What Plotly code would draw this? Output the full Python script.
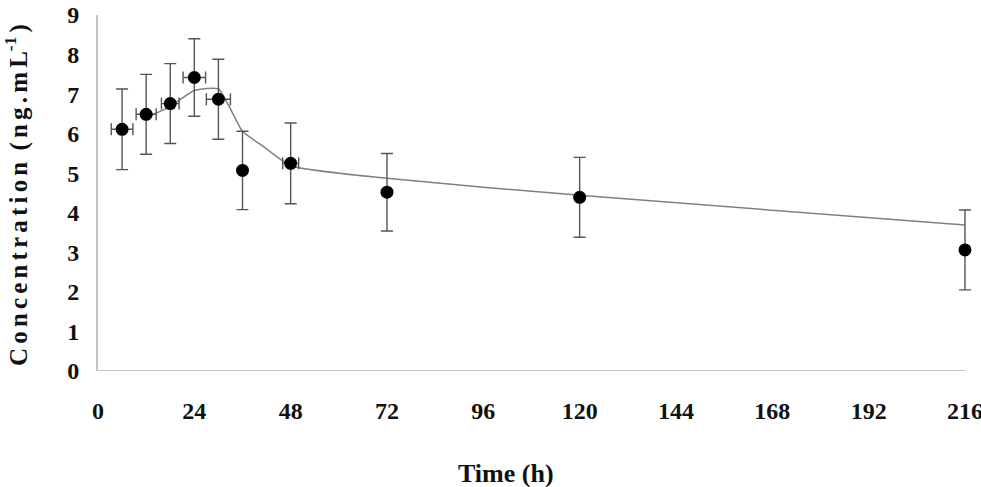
import plotly.graph_objects as go

# Observed data
time_h = [6, 12, 18, 24, 30, 36, 48, 72, 120, 216]
conc = [6.11, 6.49, 6.76, 7.42, 6.87, 5.07, 5.25, 4.52, 4.39, 3.06]
conc_sd = [1.02, 1.01, 1.01, 0.98, 1.01, 0.99, 1.02, 0.98, 1.01, 1.01]
time_sd = [2.7, 2.5, 2.2, 2.8, 3.0, 0, 2.0, 0, 0, 0]

# Fitted curve
fit_t = [12, 18, 24, 30, 36, 41, 48, 72, 120, 216]
fit_c = [6.40, 6.69, 7.09, 7.13, 6.06, 5.69, 5.19, 4.87, 4.44, 3.69]

x_ticks = [0, 24, 48, 72, 96, 120, 144, 168, 192, 216]
y_ticks = [0, 1, 2, 3, 4, 5, 6, 7, 8, 9]

FONT = "Liberation Serif"
X_MAX = 216
X_PAD = 2  # extra room so end caps are not clipped

plot_w = 867 * (X_MAX + X_PAD) / X_MAX
r_margin = 981 - 98 - plot_w

fig = go.Figure()
fig.add_trace(go.Scatter(
    x=fit_t, y=fit_c, mode="lines",
    line=dict(color="#808080", width=1.5, shape="spline", smoothing=0.5),
    hoverinfo="skip", showlegend=False, cliponaxis=False,
))
fig.add_trace(go.Scatter(
    x=time_h, y=conc, mode="markers",
    marker=dict(color="black", size=13),
    error_y=dict(type="data", array=conc_sd, visible=True, color="#555555", thickness=1.4, width=6),
    error_x=dict(type="data", array=time_sd, visible=True, color="#555555", thickness=1.4, width=6),
    showlegend=False, cliponaxis=False,
))

hs = "\u200a\u200a"
ytitle = hs.join(list("Concentration")) + "\u2009 " + hs.join(list("(ng.m")) + hs + "L<sup>-1</sup>" + hs + ")"

fig.update_layout(
    width=981, height=487,
    margin=dict(l=98, r=r_margin, t=15, b=116),
    paper_bgcolor="white", plot_bgcolor="white",
    showlegend=False,
    xaxis=dict(
        range=[0, X_MAX + X_PAD], tickvals=x_ticks, ticktext=[str(v) for v in x_ticks],
        showgrid=False, zeroline=False, showline=False,
        ticks="", ticklabelstandoff=23, automargin=False, ticklabeloverflow="allow",
        tickfont=dict(family=FONT, size=24, color="#111111", weight="bold"),
    ),
    yaxis=dict(
        range=[0, 9], tickvals=y_ticks, ticktext=[str(v) for v in y_ticks],
        showgrid=False, zeroline=False, showline=True, linecolor="#c4c4c4", linewidth=2,
        ticks="", ticklabelstandoff=12, automargin=False, ticklabeloverflow="allow",
        tickfont=dict(family=FONT, size=24, color="#111111", weight="bold"),
    ),
    shapes=[
        dict(type="line", xref="x", yref="y", x0=0, x1=X_MAX, y0=0, y1=0,
             line=dict(color="#c4c4c4", width=2), layer="below"),
    ],
    annotations=[
        dict(text="Time (h)", xref="paper", yref="paper", x=(506 - 98) / plot_w, y=-(473 - 371) / 356,
             xanchor="center", yanchor="middle", showarrow=False,
             font=dict(family=FONT, size=26, color="#111111", weight="bold")),
        dict(text=ytitle,
             xref="paper", yref="paper", x=(16 - 98) / plot_w, y=(371 - 195) / 356,
             xanchor="center", yanchor="middle", textangle=-90, showarrow=False,
             font=dict(family=FONT, size=25, color="#111111", weight="bold")),
    ],
)

fig.write_html("out.html")
